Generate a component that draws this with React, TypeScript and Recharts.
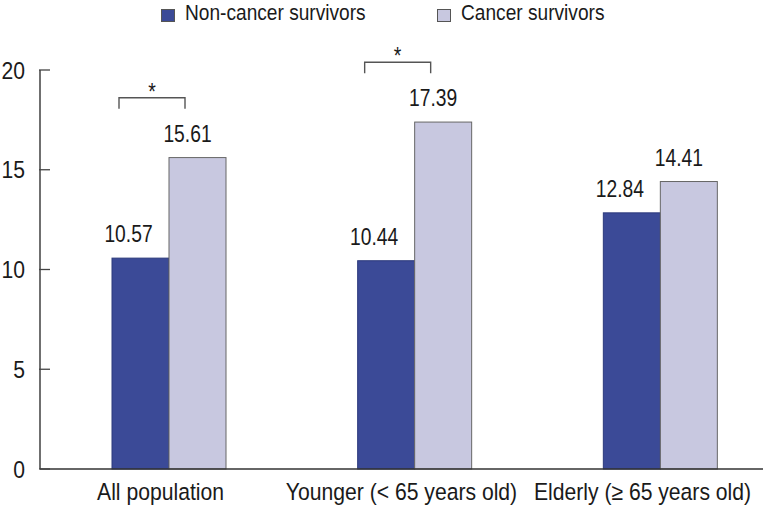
import { BarChart, Bar, XAxis, YAxis, Legend } from 'recharts'

const categories = ['All population', 'Younger (< 65 years old)', 'Elderly (≥ 65 years old)']
const nonCancer = [10.57, 10.44, 12.84]
const cancer = [15.61, 17.39, 14.41]
const significance = ['*', '*', '']
const yTicks = [0, 5, 10, 15, 20]

const FONT = '"Liberation Sans", Arial, sans-serif'
const INK = '#1a1a1a'
const DARK = '#3b4a97'
const LIGHT = '#c8c8e0'

const data = categories.map((name, i) => ({
  name,
  nonCancer: nonCancer[i],
  cancer: cancer[i],
  sig: significance[i],
}))

// the source uses a condensed face, so squeeze Liberation Sans horizontally
function NarrowText({ x, y, k = 0.85, size = 23, anchor = 'middle', children }: any) {
  return (
    <text
      transform={`translate(${x},${y}) scale(${k},1)`}
      textAnchor={anchor}
      fontSize={size}
      fontFamily={FONT}
      fill={INK}
    >
      {children}
    </text>
  )
}

function YTick({ x, y, payload }: any) {
  return (
    <g>
      <line x1={x - 1} x2={x + 10} y1={y} y2={y} stroke="#444" strokeWidth={1.3} />
      <NarrowText x={x - 15} y={y + 8.5} k={0.88} size={24} anchor="end">
        {payload.value}
      </NarrowText>
    </g>
  )
}

function XTick({ x, y, payload }: any) {
  return (
    <NarrowText x={x} y={y + 31} k={0.9} size={23.5}>
      {payload.value}
    </NarrowText>
  )
}

function makeBarShape(key: 'nonCancer' | 'cancer', fill: string, stroke: string, labelDx: number) {
  return function BarShape(props: any) {
    const { x, y, width, height, payload } = props
    const value = payload[key]
    const base = y + height
    const pxPerUnit = height / value
    let bracket = null
    if (key === 'cancer' && payload.sig) {
      const top = Math.max(payload.cancer, payload.nonCancer) + 3
      const by = base - top * pxPerUnit
      const bx1 = x - 50
      const bx2 = x + 16
      bracket = (
        <g>
          <path
            d={`M${bx1},${by + 11} L${bx1},${by} L${bx2},${by} L${bx2},${by + 11}`}
            fill="none"
            stroke="#555"
            strokeWidth={1.4}
          />
          <NarrowText x={(bx1 + bx2) / 2} y={by + 2}>
            {payload.sig}
          </NarrowText>
        </g>
      )
    }
    return (
      <g>
        <rect x={x} y={y} width={width} height={height} fill={fill} stroke={stroke} strokeWidth={1} />
        <NarrowText x={x + width / 2 + labelDx} y={y - 16} k={0.82} size={23.5}>
          {value.toFixed(2)}
        </NarrowText>
        {bracket}
      </g>
    )
  }
}

const DarkBar = makeBarShape('nonCancer', DARK, '#2c3a7c', -12)
const LightBar = makeBarShape('cancer', LIGHT, '#666', -10)

let ctx: CanvasRenderingContext2D | null = null
function measure(text: string, font: string) {
  if (!ctx) ctx = document.createElement('canvas').getContext('2d')
  if (!ctx) return text.length * 10
  ctx.font = font
  return ctx.measureText(text).width
}

function renderLegend() {
  const items = [
    { label: 'Non-cancer survivors', color: DARK },
    { label: 'Cancer survivors', color: LIGHT },
  ]
  const size = 22.5
  const k = 0.85
  return (
    <div style={{ display: 'flex', justifyContent: 'center', height: 30, fontFamily: FONT, fontSize: size, color: INK }}>
      {items.map((it, i) => {
        const w = measure(it.label, `${size}px "Liberation Sans"`) * k
        return (
          <div key={it.label} style={{ display: 'flex', alignItems: 'flex-start', marginLeft: i ? 71 : 0 }}>
            <span
              style={{
                display: 'inline-block',
                width: 12,
                height: 11,
                marginTop: 9,
                background: it.color,
                border: '1px solid #555',
                marginRight: 10,
              }}
            />
            <span style={{ display: 'inline-block', width: w, whiteSpace: 'nowrap', lineHeight: '26px' }}>
              <span style={{ display: 'inline-block', transform: `scaleX(${k})`, transformOrigin: '0 0' }}>
                {it.label}
              </span>
            </span>
          </div>
        )
      })}
    </div>
  )
}

export default function App() {
  return (
    <div style={{ width: 766, height: 508, background: '#fff' }}>
      <style>{'body{margin:0}'}</style>
      <BarChart
        width={766}
        height={508}
        data={data}
        margin={{ top: 40, right: 3, left: 0, bottom: 0 }}
        barGap={0}
      >
        <Legend verticalAlign="top" align="center" content={renderLegend} wrapperStyle={{ top: 0, left: 0, width: 766 }} height={30} />
        <XAxis
          xAxisId="labels"
          dataKey="name"
          tickLine={false}
          tickSize={0}
          tickMargin={0}
          axisLine={{ stroke: '#333', strokeWidth: 1.4 }}
          tick={<XTick />}
          interval={0}
          height={39}
        />
        <XAxis xAxisId="bars" dataKey="name" orientation="top" height={0} hide padding={{ left: 6, right: -20 }} />
        <YAxis
          domain={[0, 20]}
          ticks={yTicks}
          width={40}
          tickLine={false}
          tickSize={0}
          tickMargin={0}
          axisLine={{ stroke: '#333', strokeWidth: 1.4 }}
          tick={<YTick />}
        />
        <Bar xAxisId="bars" dataKey="nonCancer" barSize={57} shape={DarkBar} isAnimationActive={false} />
        <Bar xAxisId="bars" dataKey="cancer" barSize={57} shape={LightBar} isAnimationActive={false} />
      </BarChart>
    </div>
  )
}
